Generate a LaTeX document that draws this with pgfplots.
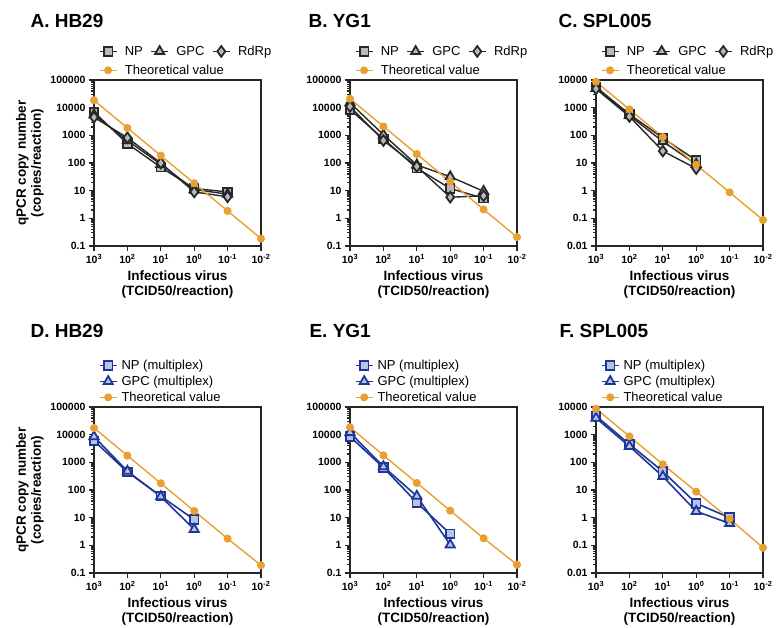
\documentclass[border=0pt]{standalone}
\usepackage{fontspec}
\setmainfont{Liberation Sans}
\usepackage{pgfplots}
\pgfplotsset{compat=1.18}

\definecolor{theocol}{RGB}{232,160,48}
\definecolor{dk}{RGB}{40,40,40}
\definecolor{mkfill}{RGB}{185,185,185}
\definecolor{bl}{RGB}{30,55,150}
\definecolor{blfill}{RGB}{185,195,232}

\pgfplotsset{
  width=167pt, height=166pt, scale only axis,
  xmin=0.01, xmax=1000,
  xtick={1000,100,10,1,0.1,0.01},
  xticklabels={10\textsuperscript{3},10\textsuperscript{2},10\textsuperscript{1},10\textsuperscript{0},10\textsuperscript{-1},10\textsuperscript{-2}},
  minor tick num=0,
  tick align=outside, tick pos=left,
  major tick length=5pt,
  axis line style={line width=1.3pt, black!85},
  tick style={black!85, line width=1.2pt},
  tick label style={font=\fontsize{10.5}{12}\selectfont\bfseries},
  xlabel style={align=center, font=\fontsize{13.5}{15}\selectfont\bfseries},
  ylabel style={align=center, font=\fontsize{13.5}{15}\selectfont\bfseries},
  legend style={draw=none, fill=none, font=\fontsize{13}{14}\selectfont,
    at={(rel axis cs:0.01,1.0)}, anchor=south west},
  legend cell align=left,
  clip=false,
}

\begin{document}
\begin{tikzpicture}
\tikzset{
  sNP/.style={color=dk, line width=1.4pt, mark=square*, mark size=4.3pt,
    mark options={fill=mkfill, draw=dk, line width=1.8pt}},
  sGPC/.style={color=dk, line width=1.4pt, mark=triangle*, mark size=5.3pt,
    mark options={fill=mkfill, draw=dk, line width=1.8pt}},
  sRdRp/.style={color=dk, line width=1.4pt, mark=diamond*, mark size=5.3pt,
    mark options={fill=mkfill, draw=dk, line width=1.8pt}},
  sNPm/.style={color=bl, line width=1.6pt, mark=square*, mark size=4.3pt,
    mark options={fill=blfill, draw=bl, line width=1.8pt}},
  sGPCm/.style={color=bl, line width=1.6pt, mark=triangle*, mark size=5.3pt,
    mark options={fill=blfill, draw=bl, line width=1.8pt}},
  sTheo/.style={color=theocol, line width=1.4pt, mark=*, mark size=3.3pt,
    mark options={fill=theocol, draw=theocol}},
}
\path[use as bounding box] (0pt,0pt) rectangle (778pt,-628pt);

% ---- top row: singleplex ----
\begin{loglogaxis}[x dir=reverse, at={(94pt,-80pt)}, anchor=north west,
  ymin=0.1, ymax=100000, ytick={0.1,1,10,100,1000,10000,100000},
  yticklabels={0.1,1,10,100,1000,10000,100000},
  legend columns=3, legend style={row sep=4pt, column sep=5.5pt},
  xlabel={Infectious virus\\(TCID50/reaction)},
  ylabel={qPCR copy number\\(copies/reaction)}]
\addplot[sNP] coordinates {(1000,7000) (100,500) (10,70) (1,12) (0.1,9)};
\addlegendentry{NP}
\addplot[sGPC] coordinates {(1000,5500) (100,650) (10,90) (1,11) (0.1,7.5)};
\addlegendentry{GPC}
\addplot[sRdRp] coordinates {(1000,4500) (100,820) (10,100) (1,9) (0.1,6)};
\addlegendentry{RdRp}
\addplot[sTheo] coordinates {(1000,18500) (100,1850) (10,185) (1,18.5) (0.1,1.85) (0.01,0.185)};
\addlegendentry{\makebox[0pt][l]{Theoretical value}}
\end{loglogaxis}

\begin{loglogaxis}[x dir=reverse, at={(350pt,-80pt)}, anchor=north west,
  ymin=0.1, ymax=100000, ytick={0.1,1,10,100,1000,10000,100000},
  yticklabels={0.1,1,10,100,1000,10000,100000},
  legend columns=3, legend style={row sep=4pt, column sep=5.5pt},
  xlabel={Infectious virus\\(TCID50/reaction)}]
\addplot[sNP] coordinates {(1000,8500) (100,750) (10,65) (1,12) (0.1,5.3)};
\addlegendentry{NP}
\addplot[sGPC] coordinates {(1000,15000) (100,1050) (10,85) (1,32) (0.1,9.5)};
\addlegendentry{GPC}
\addplot[sRdRp] coordinates {(1000,11000) (100,650) (10,75) (1,5.8) (0.1,6.5)};
\addlegendentry{RdRp}
\addplot[sTheo] coordinates {(1000,21000) (100,2100) (10,210) (1,21) (0.1,2.1) (0.01,0.21)};
\addlegendentry{\makebox[0pt][l]{Theoretical value}}
\end{loglogaxis}

\begin{loglogaxis}[x dir=reverse, at={(596pt,-80pt)}, anchor=north west,
  ymin=0.01, ymax=10000, ytick={0.01,0.1,1,10,100,1000,10000},
  yticklabels={0.01,0.1,1,10,100,1000,10000},
  legend columns=3, legend style={row sep=4pt, column sep=5.5pt},
  xlabel={Infectious virus\\(TCID50/reaction)}]
\addplot[sNP] coordinates {(1000,5600) (100,580) (10,80) (1,12.5)};
\addlegendentry{NP}
\addplot[sGPC] coordinates {(1000,5000) (100,520) (10,60) (1,9)};
\addlegendentry{GPC}
\addplot[sRdRp] coordinates {(1000,4800) (100,480) (10,27) (1,6.3)};
\addlegendentry{RdRp}
\addplot[sTheo] coordinates {(1000,8700) (100,870) (10,87) (1,8.7) (0.1,0.87) (0.01,0.087)};
\addlegendentry{\makebox[0pt][l]{Theoretical value}}
\end{loglogaxis}

% ---- bottom row: multiplex ----
\begin{loglogaxis}[x dir=reverse, at={(94pt,-407pt)}, anchor=north west,
  ymin=0.1, ymax=100000, ytick={0.1,1,10,100,1000,10000,100000},
  yticklabels={0.1,1,10,100,1000,10000,100000},
  legend style={row sep=1pt, column sep=2pt},
  xlabel={Infectious virus\\(TCID50/reaction)},
  ylabel={qPCR copy number\\(copies/reaction)}]
\addplot[sNPm] coordinates {(1000,6000) (100,450) (10,60) (1,8.5)};
\addlegendentry{NP (multiplex)}
\addplot[sGPCm] coordinates {(1000,8500) (100,480) (10,58) (1,3.8)};
\addlegendentry{GPC (multiplex)}
\addplot[sTheo] coordinates {(1000,17500) (100,1750) (10,175) (1,17.5) (0.1,1.75) (0.01,0.19)};
\addlegendentry{Theoretical value}
\end{loglogaxis}

\begin{loglogaxis}[x dir=reverse, at={(350pt,-407pt)}, anchor=north west,
  ymin=0.1, ymax=100000, ytick={0.1,1,10,100,1000,10000,100000},
  yticklabels={0.1,1,10,100,1000,10000,100000},
  legend style={row sep=1pt, column sep=2pt},
  xlabel={Infectious virus\\(TCID50/reaction)}]
\addplot[sNPm] coordinates {(1000,8500) (100,650) (10,35) (1,2.6)};
\addlegendentry{NP (multiplex)}
\addplot[sGPCm] coordinates {(1000,12000) (100,700) (10,60) (1,1.05)};
\addlegendentry{GPC (multiplex)}
\addplot[sTheo] coordinates {(1000,18500) (100,1800) (10,180) (1,18) (0.1,1.8) (0.01,0.2)};
\addlegendentry{Theoretical value}
\end{loglogaxis}

\begin{loglogaxis}[x dir=reverse, at={(596pt,-407pt)}, anchor=north west,
  ymin=0.01, ymax=10000, ytick={0.01,0.1,1,10,100,1000,10000},
  yticklabels={0.01,0.1,1,10,100,1000,10000},
  legend style={row sep=1pt, column sep=2pt},
  xlabel={Infectious virus\\(TCID50/reaction)}]
\addplot[sNPm] coordinates {(1000,4800) (100,450) (10,47) (1,3.3) (0.1,1.0)};
\addlegendentry{NP (multiplex)}
\addplot[sGPCm] coordinates {(1000,4000) (100,380) (10,31) (1,1.7) (0.1,0.62)};
\addlegendentry{GPC (multiplex)}
\addplot[sTheo] coordinates {(1000,8700) (100,870) (10,85) (1,8.7) (0.1,0.9) (0.01,0.082)};
\addlegendentry{Theoretical value}
\end{loglogaxis}

% panel titles
\begin{scope}[every node/.style={anchor=west, font=\fontsize{19}{21}\selectfont\bfseries}]
\node at (27pt,-21pt) {A. HB29};
\node at (305pt,-21pt) {B. YG1};
\node at (555pt,-21pt) {C. SPL005};
\node at (27pt,-331pt) {D. HB29};
\node at (306pt,-331pt) {E. YG1};
\node at (556pt,-331pt) {F. SPL005};
\end{scope}
\end{tikzpicture}
\end{document}
